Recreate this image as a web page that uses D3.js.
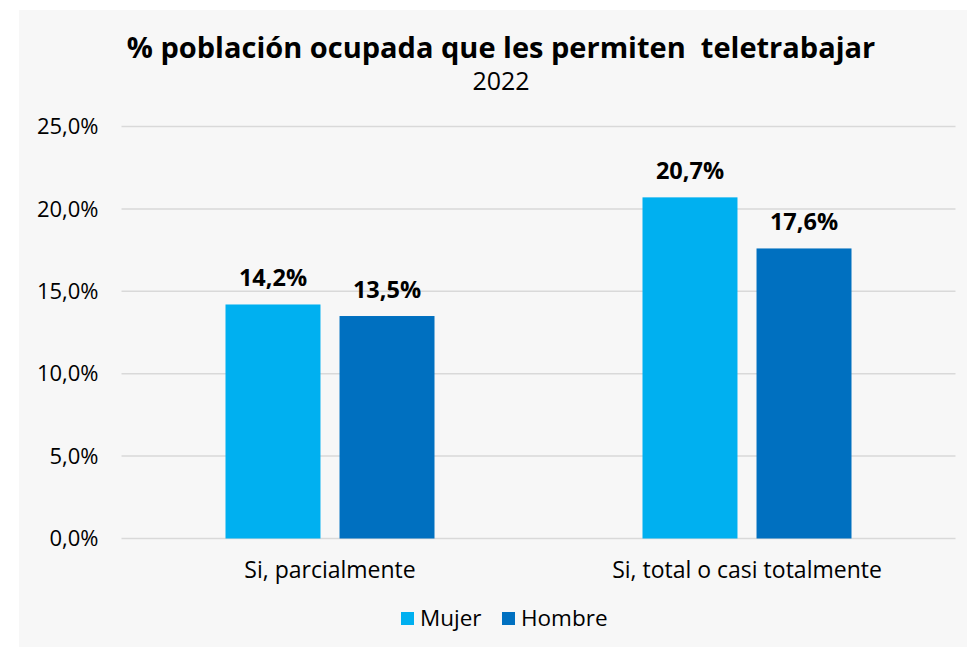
<!DOCTYPE html>
<html>
<head>
<meta charset="utf-8">
<script src="https://d3js.org/d3.v7.min.js"></script>
<style>
  body { margin:0; background:#ffffff; }
  svg text { font-family: "Open Sans", "Noto Sans", sans-serif; fill:#000; }
  .grid line { stroke:#d9d9d9; stroke-width:1.5; }
  .title { font-weight:700; white-space:pre; }
</style>
</head>
<body>
<svg id="chart" width="967" height="647"></svg>
<script>
// data
var categories = ["Si, parcialmente", "Si, total o casi totalmente"];
var seriesNames = ["Mujer", "Hombre"];
var mujer = [14.2, 20.7];
var hombre = [13.5, 17.6];
var yTicks = [0, 5, 10, 15, 20, 25];
var colors = ["#00b0f0", "#0070c0"];

var svg = d3.select("#chart");

// panel
svg.append("rect")
  .attr("x", 19).attr("y", 10)
  .attr("width", 948).attr("height", 637)
  .attr("fill", "#f7f7f7");

var margin = {top:126.5, left:121.5, right:11.5, bottom:108.5};
var width = 967 - margin.left - margin.right,
    height = 647 - margin.top - margin.bottom;

var g = svg.append("g")
  .attr("transform", "translate(" + margin.left + "," + margin.top + ")");

var y = d3.scaleLinear().domain([0, 25]).range([height, 0]);
var x0 = d3.scaleBand().domain(categories).range([0, width]).paddingInner(0).paddingOuter(0);
var x1 = d3.scaleBand().domain(seriesNames).range([0, 209]).paddingInner(0.167);

// gridlines
g.append("g").attr("class", "grid")
  .selectAll("line").data(yTicks).enter().append("line")
  .attr("x1", 0).attr("x2", width)
  .attr("y1", function(d){ return y(d); })
  .attr("y2", function(d){ return y(d); });

// y tick labels
var fmt = function(d){ return d3.format(".1f")(d).replace(".", ",") + "%"; };
g.append("g").selectAll("text").data(yTicks).enter().append("text")
  .attr("x", -23)
  .attr("y", function(d){ return y(d); })
  .attr("dy", "0.35em")
  .attr("text-anchor", "end")
  .style("font-size", "22px")
  .text(fmt);

var rows = categories.map(function(c, i){
  return {cat:c, vals:[{s:"Mujer", v:mujer[i]}, {s:"Hombre", v:hombre[i]}]};
});

var groups = g.selectAll(".grp").data(rows).enter().append("g")
  .attr("transform", function(d){ return "translate(" + (x0(d.cat) + (x0.bandwidth() - 209) / 2) + ",0)"; });

groups.selectAll("rect").data(function(d){ return d.vals; }).enter().append("rect")
  .attr("x", function(d){ return x1(d.s); })
  .attr("width", x1.bandwidth())
  .attr("y", function(d){ return y(d.v); })
  .attr("height", function(d){ return height - y(d.v); })
  .attr("fill", function(d, i){ return colors[i]; });

groups.selectAll("text").data(function(d){ return d.vals; }).enter().append("text")
  .attr("x", function(d){ return x1(d.s) + x1.bandwidth() / 2; })
  .attr("y", function(d){ return y(d.v) - 18; })
  .attr("text-anchor", "middle")
  .style("font-size", "23.5px")
  .style("font-weight", "700")
  .text(function(d){ return fmt(d.v); });

// category labels
g.append("g").selectAll("text").data(categories).enter().append("text")
  .attr("x", function(d){ return x0(d) + x0.bandwidth() / 2; })
  .attr("y", height + 39)
  .attr("text-anchor", "middle")
  .style("font-size", "23px")
  .text(function(d){ return d; });

// title
svg.append("text").attr("class", "title")
  .attr("x", 501).attr("y", 58)
  .attr("text-anchor", "middle")
  .style("font-size", "29px")
  .text("% población ocupada que les permiten  teletrabajar");
svg.append("text")
  .attr("x", 501).attr("y", 90)
  .attr("text-anchor", "middle")
  .style("font-size", "25px")
  .text("2022");

// legend
var legendX = [401, 502];
var leg = svg.append("g").selectAll("g").data(seriesNames).enter().append("g")
  .attr("transform", function(d, i){ return "translate(" + legendX[i] + ",612)"; });
leg.append("rect").attr("width", 13).attr("height", 13)
  .attr("fill", function(d, i){ return colors[i]; });
leg.append("text").attr("x", 19).attr("y", 6.5).attr("dy", "0.35em")
  .style("font-size", "22.5px")
  .text(function(d){ return d; });
</script>
</body>
</html>
